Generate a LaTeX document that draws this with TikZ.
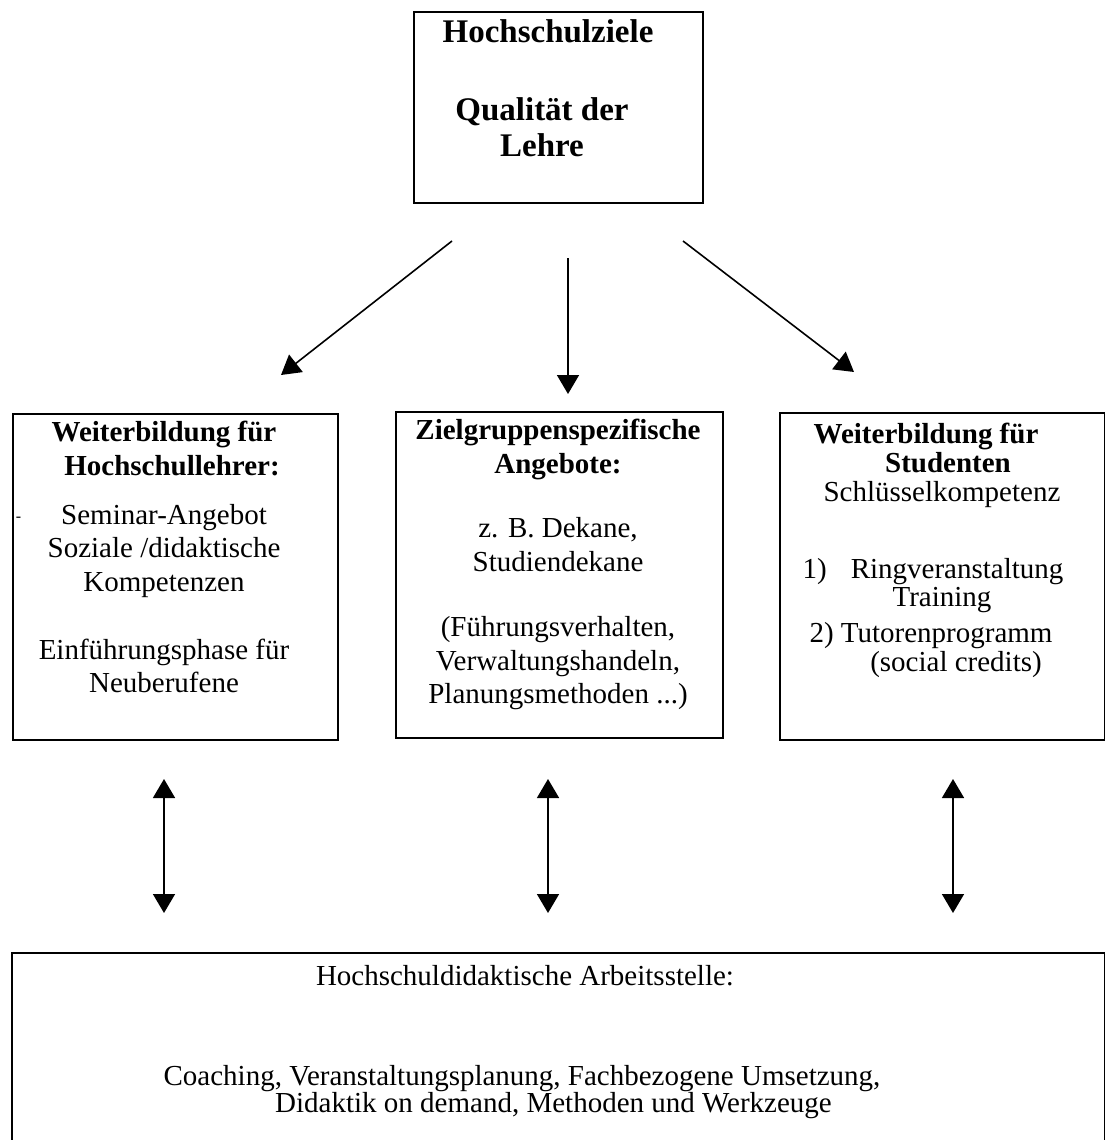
\documentclass[tikz,border=0pt]{standalone}
\usepackage{fontspec}
\setmainfont{Liberation Serif}
\usepackage{tikz}
\usetikzlibrary{arrows.meta, positioning}

\tikzset{
  box/.style={draw, line width=1.8pt, inner sep=0pt, anchor=north west},
  txt/.style={align=center, inner sep=0pt, anchor=north, font=\fontsize{29}{33.5}\selectfont},
  pfeil/.style={line width=1.6pt, -{Triangle[length=19pt, width=22pt]}},
  doppelpfeil/.style={line width=1.6pt, {Triangle[length=19pt, width=22pt]}-{Triangle[length=19pt, width=22pt]}},
}

\begin{document}
\begin{tikzpicture}[x=1pt, y=-1pt]
\useasboundingbox (0,0) rectangle (1105,1140);
\clip (0,0) rectangle (1105,1140);
\fill[white] (0,0) rectangle (1105,1140);

% Kaesten
\node[box, minimum width=289pt, minimum height=191pt] (ziel) at (413,11) {};
\node[box, minimum width=325pt, minimum height=326pt] (lehrer) at (12,413) {};
\node[box, minimum width=327pt, minimum height=326pt] (gruppen) at (395,411) {};
\node[box, minimum width=325pt, minimum height=327pt] (studis) at (779,412) {};
\node[box, minimum width=1093pt, minimum height=220pt] (stelle) at (11,952) {};

% Texte
\node[txt, font=\fontsize{33}{36}\selectfont\bfseries] (zieltext) at (542,19)
  {\hspace*{12pt}Hochschulziele\\[42pt] Qualität der\\ Lehre};
\node[txt] (lehrertext) at (164,421)
  {\textbf{Weiterbildung für}\\ \hspace*{16pt}\textbf{Hochschullehrer:}\\[15.5pt]
   Seminar-Angebot\\ Soziale /didaktische\\ Kompetenzen\\[34.5pt]
   Einführungsphase für\\ Neuberufene};
\node[anchor=base, inner sep=0pt, font=\fontsize{16}{16}\selectfont] (strich) at (18.5,521) {-};
\node[txt] (gruppentext) at (558,419)
  {\textbf{Zielgruppenspezifische}\\ \textbf{Angebote:}\\[31pt]
   z. B. Dekane,\\ Studiendekane\\[32pt]
   (Führungsverhalten,\\ Verwaltungshandeln,\\ Planungsmethoden ...)};
\node[txt, font=\fontsize{29}{29}\selectfont] (studistext) at (942,423)
  {\hspace*{-32pt}\textbf{Weiterbildung für}\\ \hspace*{12pt}\textbf{Studenten}\\ Schlüsselkompetenz\\[48pt]
   \hspace*{-18pt}1)\hspace{24pt}Ringveranstaltung\\[-1pt] Training\\[7pt]
   \hspace*{-22pt}2) Tutorenprogramm\\ \hspace*{28pt}(social credits)};
\node[anchor=base, inner sep=0pt, font=\fontsize{29}{33}\selectfont] (stelletitel) at (525,985)
  {Hochschuldidaktische Arbeitsstelle:};
\node[txt, font=\fontsize{29}{25}\selectfont] (stelletext) at (522,1065)
  {Coaching, Veranstaltungsplanung, Fachbezogene Umsetzung,\\
   \hspace*{63pt}Didaktik on demand, Methoden und Werkzeuge};

% Pfeile
\coordinate (zl1) at (452,241);
\coordinate (zl2) at (281,375);
\coordinate (zm1) at (568,258);
\coordinate (zm2) at (568,394);
\coordinate (zr1) at (683,241);
\coordinate (zr2) at (854,372);
\draw[pfeil] (zl1) -- (zl2);
\draw[pfeil] (zm1) -- (zm2);
\draw[pfeil] (zr1) -- (zr2);

\coordinate (l1) at (164,779);
\coordinate (l2) at (164,913);
\coordinate (m1) at (548,779);
\coordinate (m2) at (548,913);
\coordinate (r1) at (953,779);
\coordinate (r2) at (953,913);
\draw[doppelpfeil] (l1) -- (l2);
\draw[doppelpfeil] (m1) -- (m2);
\draw[doppelpfeil] (r1) -- (r2);
\end{tikzpicture}
\end{document}
